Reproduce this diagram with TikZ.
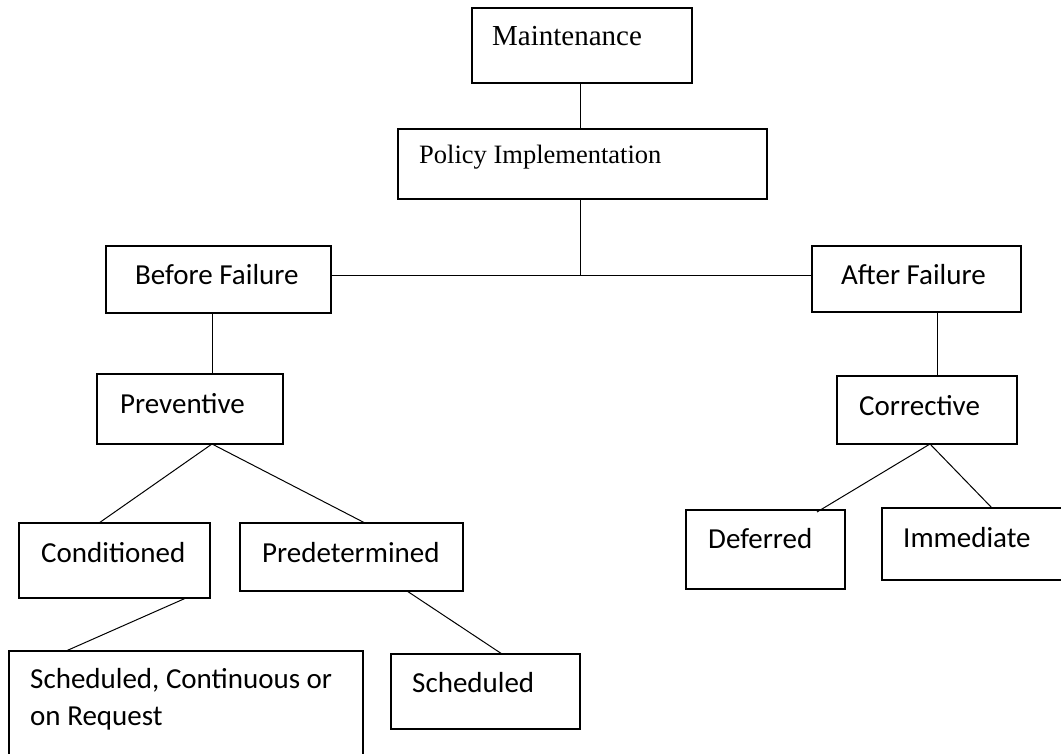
\documentclass[tikz,border=0pt]{standalone}
\usepackage{fontspec}
\setmainfont{Liberation Serif}
\newfontfamily\calib{Carlito}
\begin{document}
\begin{tikzpicture}[x=1pt,y=-1pt,
  box/.style={draw=black,line width=1.7pt,anchor=north west,inner sep=0pt,outer sep=0pt},
  conn/.style={draw=black,line width=1pt},
  serlab/.style={anchor=base west,inner sep=0pt,font=\fontsize{29}{35}\selectfont},
  serlabs/.style={anchor=base west,inner sep=0pt,font=\fontsize{26.5}{32}\selectfont},
  sanlab/.style={anchor=base west,inner sep=0pt,font=\calib\fontsize{29}{37}\selectfont}]
\useasboundingbox (0,0) rectangle (1061,754);
\fill[white] (0,0) rectangle (1061,754);
% boxes
\node[box,minimum width=220pt,minimum height=75pt] (maint) at (472,8) {};
\node[box,minimum width=369pt,minimum height=70pt] (policy) at (398,129) {};
\node[box,minimum width=225pt,minimum height=67pt] (before) at (106,246) {};
\node[box,minimum width=209pt,minimum height=66pt] (after) at (812,246) {};
\node[box,minimum width=186pt,minimum height=70pt] (prev) at (97,374) {};
\node[box,minimum width=180pt,minimum height=68pt] (corr) at (837,376) {};
\node[box,minimum width=191pt,minimum height=75pt] (cond) at (19,523) {};
\node[box,minimum width=223pt,minimum height=68pt] (pred) at (240,523) {};
\node[box,minimum width=159pt,minimum height=79pt] (defer) at (686,510) {};
\node[box,minimum width=190pt,minimum height=72pt] (immed) at (882,508) {};
\node[box,minimum width=354pt,minimum height=105pt] (sccr) at (9,651) {};
\node[box,minimum width=189pt,minimum height=75pt] (sched) at (391,654) {};
% texts
\node[serlab] (tmaint) at (492,46) {Maintenance};
\node[serlabs] (tpolicy) at (419,164) {Policy Implementation};
\node[sanlab] (tbefore) at (135,285) {Before Failure};
\node[sanlab] (tafter) at (841,285) {After Failure};
\node[sanlab] (tprev) at (120,413) {Preventive};
\node[sanlab] (tcorr) at (859,415) {Corrective};
\node[sanlab] (tcond) at (41,562) {Conditioned};
\node[sanlab] (tpred) at (262,562) {Predetermined};
\node[sanlab] (tdefer) at (708,548) {Deferred};
\node[sanlab] (timmed) at (903,547) {Immediate};
\node[sanlab] (tsccr1) at (30,688) {Scheduled, Continuous or};
\node[sanlab] (tsccr2) at (30,725) {on Request};
\node[sanlab] (tsched) at (412,692) {Scheduled};
% connectors
\coordinate (junc) at (580,276);
\draw[conn] ([xshift=108pt]maint.south west) -- ([xshift=182pt]policy.north west);
\draw[conn] ([xshift=182pt]policy.south west) -- (junc);
\draw[conn] (before.east |- junc) -- (after.west |- junc);
\draw[conn] ([xshift=106pt]before.south west) -- ([xshift=115pt]prev.north west);
\draw[conn] ([xshift=125pt]after.south west) -- ([xshift=100pt]corr.north west);
\draw[conn] ([xshift=115pt]prev.south west) -- ([xshift=80pt]cond.north west);
\draw[conn] ([xshift=115pt]prev.south west) -- ([xshift=125pt]pred.north west);
\draw[conn] ([xshift=93pt]corr.south west) -- ([xshift=131pt,yshift=-2pt]defer.north west);
\draw[conn] ([xshift=93pt]corr.south west) -- ([xshift=110pt]immed.north west);
\draw[conn] ([xshift=167pt]cond.south west) -- ([xshift=57pt]sccr.north west);
\draw[conn] ([xshift=167pt]pred.south west) -- ([xshift=111pt]sched.north west);
\end{tikzpicture}
\end{document}
